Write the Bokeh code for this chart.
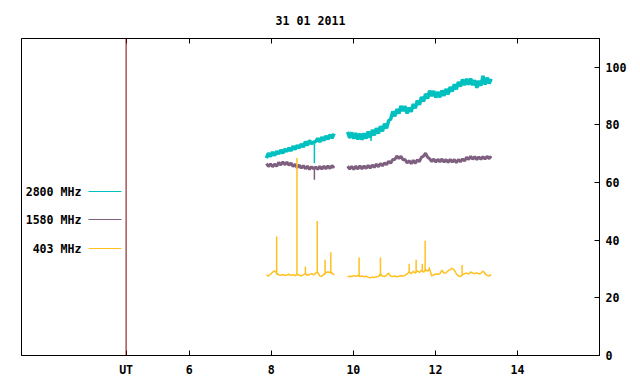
import numpy as np
from bokeh.plotting import figure
from bokeh.models import FixedTicker, LinearAxis, Span
from bokeh.core.properties import value
from bokeh.embed import file_html
from bokeh.resources import INLINE

TITLE = "31 01 2011"
UT_POS = 4.46
X_TICKS = [UT_POS, 6, 8, 10, 12, 14]
Y_TICKS = [0, 20, 40, 60, 80, 100]
SERIES = ["2800 MHz", "1580 MHz", "403 MHz"]
COLORS = ["#00c0c0", "#7f5f80", "#ffc020"]

# two observing blocks (UT hours) sampled on a regular grid
seg1_start, seg1_end = 7.88, 9.53
seg2_start, seg2_end = 9.86, 13.36

f2800_a = [68.5, 70.2, 69.0, 70.6, 69.4, 70.9, 69.9, 71.3, 70.2, 71.6, 70.8, 72.0, 71.0, 72.6, 71.5, 72.9, 72.0,
           73.4, 72.3, 74.2, 72.9, 74.6, 73.5, 74.0, 74.2, 75.3, 74.1, 75.8, 74.6, 76.2, 75.0, 76.6, 75.4, 77.0]
f2800_b = [77.6, 75.5, 77.4, 75.2, 77.2, 75.0, 77.0, 74.9, 77.1, 75.3, 77.7, 75.6, 78.3, 76.4, 78.9, 77.0, 79.6,
           77.8, 80.4, 78.8, 81.5, 82.0, 84.7, 83.0, 85.5, 84.0, 86.6, 84.8, 86.5, 84.0, 86.0, 84.6, 87.3, 85.8,
           88.5, 87.0, 89.7, 88.1, 90.8, 89.2, 91.9, 90.0, 91.8, 89.5, 91.5, 89.6, 92.0, 90.1, 92.5, 90.6, 93.2,
           91.6, 94.1, 92.4, 94.9, 93.3, 95.8, 93.8, 96.0, 94.0, 96.1, 93.8, 95.5, 92.9, 95.3, 93.6, 97.0, 94.0,
           96.4, 94.4, 96.0]
# brief drop-outs on 2800 MHz
dip2800_t = [9.05, 10.43]
dip2800_top = [73.5, 76.0]
dip2800_low = [66.7, 74.4]

f1580_a = [66.6, 65.6, 66.5, 65.5, 66.4, 65.7, 67.0, 66.1, 67.2, 66.2, 67.1, 66.0, 66.8, 65.6, 66.3, 65.2, 66.1,
           65.0, 65.9, 64.8, 65.7, 64.6, 65.5, 64.8, 65.4, 64.6, 65.6, 64.7, 65.7, 64.8, 65.8, 64.9, 65.9, 65.1]
f1580_b = [65.7, 64.7, 65.6, 64.6, 65.7, 64.7, 65.8, 64.8, 65.8, 64.9, 66.0, 65.0, 66.1, 65.3, 66.4, 65.5, 66.6,
           65.8, 66.9, 66.2, 67.4, 66.7, 68.0, 68.0, 69.2, 68.4, 69.1, 67.9, 68.0, 66.8, 67.6, 66.6, 67.7, 66.7,
           67.9, 67.3, 68.8, 69.2, 70.2, 68.8, 68.3, 67.3, 68.2, 67.1, 68.1, 67.2, 68.2, 67.1, 68.0, 67.0, 68.1,
           67.1, 68.0, 66.9, 68.0, 67.2, 68.2, 67.5, 68.8, 68.0, 69.1, 68.1, 69.0, 68.0, 68.9, 68.1, 69.0, 68.2,
           69.1, 68.3, 69.2]
dip1580_t = [9.05]
dip1580_top = [65.0]
dip1580_low = [61.0]

f403_a = [27.9, 27.6, 28.2, 28.9, 29.4, 28.6, 28.0, 27.8, 28.1, 27.8, 27.9, 28.2, 27.8, 28.0, 27.7, 28.1, 27.9,
          27.6, 28.0, 28.3, 27.8, 28.1, 28.4, 28.0, 28.6, 28.9, 27.6, 27.5, 28.1, 28.8, 29.0, 28.8, 28.6, 28.0]
f403_b = [27.3, 27.5, 27.4, 27.7, 27.5, 27.8, 27.4, 27.6, 27.3, 27.5, 27.2, 27.0, 27.2, 27.1, 27.3, 27.4, 28.3,
          27.6, 27.4, 27.9, 28.6, 27.5, 27.4, 27.6, 27.3, 27.5, 27.7, 27.6, 27.8, 28.3, 29.0, 28.4, 29.2, 28.6,
          29.4, 28.8, 29.6, 28.9, 29.8, 29.3, 29.9, 27.6, 28.0, 28.3, 28.2, 28.4, 29.6, 28.5, 28.7, 29.4, 29.8,
          30.3, 29.6, 28.4, 27.6, 27.4, 28.0, 28.4, 28.6, 28.3, 29.0, 28.6, 28.4, 28.7, 28.3, 28.5, 29.3, 28.4,
          27.8, 27.6, 28.1]

# short bursts on 403 MHz
burst_t = [8.13, 8.625, 8.83, 9.12, 9.31, 9.45, 10.14, 10.66, 11.36, 11.53, 11.68, 11.75, 11.85, 12.65]
burst_peak = [41.3, 68.5, 30.9, 46.7, 33.2, 35.8, 34.0, 34.0, 31.8, 33.2, 31.8, 39.8, 30.6, 31.4]
burst_base = [28.0, 28.0, 28.0, 28.6, 28.0, 28.6, 27.5, 27.5, 28.6, 28.8, 29.0, 29.2, 29.4, 28.0]


def joined(a, b):
    t = np.concatenate([np.linspace(seg1_start, seg1_end, len(a)), [np.nan],
                        np.linspace(seg2_start, seg2_end, len(b))])
    v = np.concatenate([a, [np.nan], b])
    return t, v


FONT = "DejaVu Sans Mono"
FS = "11.6px"
X0, X1 = 1.91, 16.0
Y0, Y1 = 0, 110
FW, FH = 578, 317

p = figure(frame_width=FW, frame_height=FH, x_range=(X0, X1), y_range=(Y0, Y1),
           y_axis_location="right", output_backend="svg", toolbar_location=None,
           title=TITLE, min_border_left=21, min_border_top=38, min_border_bottom=0,
           min_border_right=0)
p.background_fill_color = "white"
p.border_fill_color = "white"
p.outline_line_color = "black"
p.outline_line_width = 1
p.xgrid.visible = False
p.ygrid.visible = False

p.title.align = "center"
p.title.text_font = FONT
p.title.text_font_size = FS
p.title.text_font_style = "bold"
p.title.text_color = "black"
p.title.standoff = 21

xa = p.xaxis[0]
xa.ticker = FixedTicker(ticks=X_TICKS)
xa.major_label_overrides = {UT_POS: "UT"}
ya = p.yaxis[0]
ya.ticker = FixedTicker(ticks=Y_TICKS)

top = LinearAxis(ticker=FixedTicker(ticks=X_TICKS))
top.major_label_overrides = {t: "" for t in X_TICKS}
top.major_label_standoff = 0
p.add_layout(top, "above")

for ax in [xa, ya, top]:
    ax.major_tick_in = 5
    ax.major_tick_out = 0
    ax.minor_tick_in = 0
    ax.minor_tick_out = 0
    ax.axis_line_color = "black"
    ax.major_tick_line_color = "black"
    ax.major_label_text_font = FONT
    ax.major_label_text_font_style = "bold"
    ax.major_label_text_color = "black"
    ax.major_label_text_font_size = FS
xa.major_label_standoff = 7
ya.major_label_standoff = 6

p.add_layout(Span(location=UT_POS, dimension="height", line_color="#7a0000", line_width=1))

t, v = joined(f2800_a, f2800_b)
p.line(t, v, line_color=COLORS[0], line_width=3.5)
p.segment(x0=dip2800_t, y0=dip2800_top, x1=dip2800_t, y1=dip2800_low, line_color=COLORS[0], line_width=1.5)
t, v = joined(f1580_a, f1580_b)
p.line(t, v, line_color=COLORS[1], line_width=3)
p.segment(x0=dip1580_t, y0=dip1580_top, x1=dip1580_t, y1=dip1580_low, line_color=COLORS[1], line_width=1.5)
t, v = joined(f403_a, f403_b)
p.line(t, v, line_color=COLORS[2], line_width=1.5)
p.segment(x0=burst_t, y0=burst_base, x1=burst_t, y1=burst_peak, line_color=COLORS[2], line_width=1.5)

# key (label left, sample line right), positioned in pixels from frame top-left
px_x = (X1 - X0) / FW
px_y = (Y1 - Y0) / FH
key_rows = [153, 181, 210]
for name, col, r in zip(SERIES, COLORS, key_rows):
    yy = Y1 - r * px_y
    p.line([X0 + 67 * px_x, X0 + 100 * px_x], [yy, yy], line_color=col, line_width=1)
    p.text(x=[X0 + 60 * px_x], y=[yy], text=[name], text_align="right", text_baseline="middle",
           text_font=value(FONT), text_font_size=FS, text_font_style="bold", text_color="black")

open("out.html", "w").write(file_html(p, INLINE))
